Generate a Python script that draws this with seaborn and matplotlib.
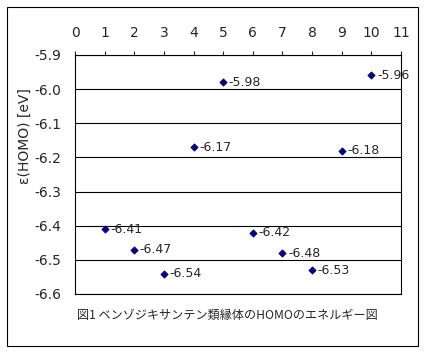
# Imports
import numpy as np
import pandas as pd
import matplotlib
matplotlib.use("Agg")
import matplotlib.pyplot as plt
import seaborn as sns
from matplotlib.patches import Rectangle

# Dados do gráfico
compostos = [1, 2, 3, 4, 5, 6, 7, 8, 9, 10]
homo = [-6.41, -6.47, -6.54, -6.17, -5.98, -6.42, -6.48, -6.53, -6.18, -5.96]
x_ticks = list(range(0, 12))
y_ticks = [-5.9, -6.0, -6.1, -6.2, -6.3, -6.4, -6.5, -6.6]
titulo_y = "ε(HOMO) [eV]"
legenda = "図1 ベンゾジキサンテン類縁体のHOMOのエネルギー図"

df = pd.DataFrame({"composto": compostos, "homo": homo})

sns.set_style("white")
plt.rcParams["font.family"] = ["DejaVu Sans", "Noto Sans CJK JP"]

fig = plt.figure(figsize=(4.28, 3.54), dpi=100)
ax = fig.add_axes([75 / 428, 60 / 354, 326 / 428, 239 / 354])

# Pontos
sns.scatterplot(data=df, x="composto", y="homo", marker="D", s=14,
                color="#000080", edgecolor="#000080", linewidth=0.5, ax=ax, zorder=3)

# Rótulos dos pontos
for xi, yi in zip(df["composto"], df["homo"]):
    ax.annotate(f"{yi:.2f}", (xi, yi), xytext=(4, 0), textcoords="offset points",
                ha="left", va="center", fontsize=9, annotation_clip=False, zorder=4)

# Eixos
ax.set_xlim(0, 11)
ax.set_ylim(-6.6, -5.9)
ax.xaxis.tick_top()
ax.set_xticks(x_ticks)
ax.set_yticks(y_ticks)
ax.set_yticklabels([f"{v:.1f}" for v in y_ticks])
ax.tick_params(axis="x", direction="out", length=3, width=0.8, pad=8, labelsize=10, top=True, bottom=False)
ax.tick_params(axis="y", length=0, pad=10, labelsize=10)
ax.set_xlabel("")
ax.set_ylabel("")

# Linhas de grade
ax.yaxis.grid(True, color="black", linewidth=0.8)
ax.xaxis.grid(False)
for s in ax.spines.values():
    s.set_visible(True)
    s.set_color("black")
    s.set_linewidth(0.8)

# Textos
fig.text(25 / 428, 1 - 136 / 354, titulo_y, rotation=90, ha="center", va="center", fontsize=10)
fig.text(227 / 428, 1 - 315 / 354, legenda, ha="center", va="center", fontsize=8.7,
         family=["Noto Sans CJK JP", "DejaVu Sans"])

# Borda externa
fig.patches.append(Rectangle((7 / 428, 8 / 354), 411 / 428, 339 / 354, transform=fig.transFigure,
                             fill=False, edgecolor="black", linewidth=0.8))

fig.savefig("out.png", dpi=100)
